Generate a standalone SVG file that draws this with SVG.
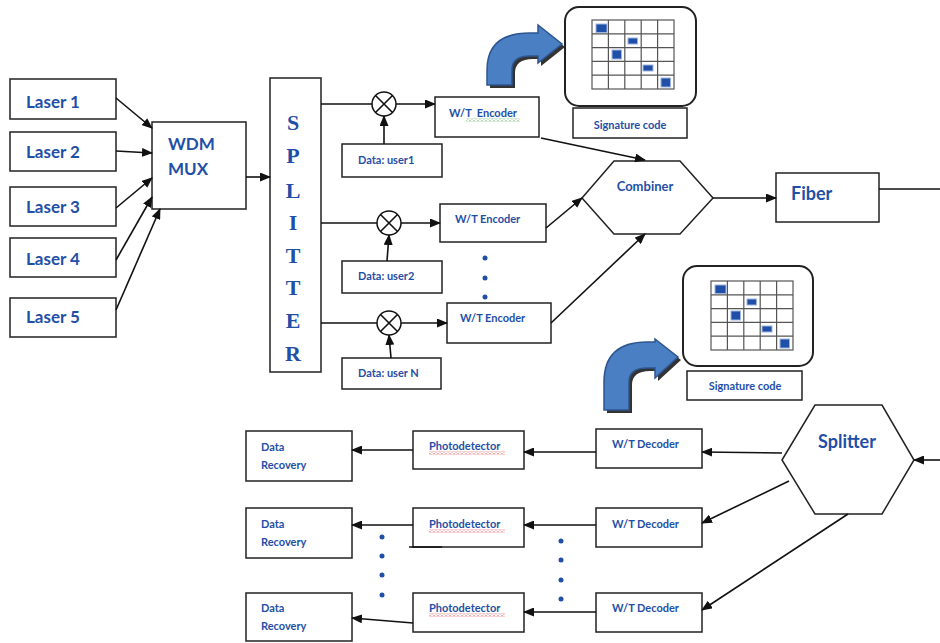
<svg xmlns="http://www.w3.org/2000/svg" width="940" height="643" viewBox="0 0 940 643">
<style>
.box{fill:#fff;stroke:#222;stroke-width:1.5}
.ln{fill:none;stroke:#111;stroke-width:1.6}
.arr{fill:none;stroke:#111;stroke-width:1.6;marker-end:url(#ah)}
.lbl{font-family:Lato,"Liberation Sans",sans-serif;font-weight:bold;fill:#1f4fa6}
.big{font-size:17px}
.sm{font-size:11px}
.sp{font-family:"Liberation Serif",serif;font-weight:bold;font-size:22px;fill:#1f4fa6;text-anchor:middle}
.dot{fill:#1f4fa6}
.grid{fill:#fff;stroke:#555;stroke-width:1.2}
.blk{fill:#1f4fa6;stroke:#9fb5e0;stroke-width:1}
.bend{fill:#4a7fc4;stroke:#2d5590;stroke-width:1.5}
.shadow{fill:#333}
</style>
<defs>
<marker id="ah" markerWidth="11" markerHeight="9" refX="10" refY="4.5" orient="auto" markerUnits="userSpaceOnUse">
<path d="M0,0 L11,4.5 L0,9 z" fill="#111"/>
</marker>
<pattern id="wavyR" width="4" height="3" patternUnits="userSpaceOnUse">
<path d="M0,2.5 L2,0.5 L4,2.5" fill="none" stroke="#e02020" stroke-width="0.8"/>
</pattern>
<pattern id="wavyG" width="4" height="3" patternUnits="userSpaceOnUse">
<path d="M0,2.5 L2,0.5 L4,2.5" fill="none" stroke="#3a9a3a" stroke-width="0.8"/>
</pattern>
<g id="sigGrid">
<rect class="grid" x="0" y="0" width="82" height="69"/>
<path d="M16.4,0 V69 M32.8,0 V69 M49.2,0 V69 M65.6,0 V69 M0,13.8 H82 M0,27.6 H82 M0,41.4 H82 M0,55.2 H82" stroke="#555" stroke-width="1.2" fill="none"/>
<rect class="blk" x="4" y="4" width="11" height="8.5"/>
<rect class="blk" x="36" y="18" width="9.5" height="6"/>
<rect class="blk" x="20" y="30" width="9.5" height="9"/>
<rect class="blk" x="51" y="45" width="10" height="6"/>
<rect class="blk" x="69" y="58" width="9.5" height="9"/>
</g>
</defs>
<rect width="940" height="643" fill="#fff"/>

<g id="laser1"><rect class="box" x="10" y="79" width="106" height="40"/><text class="lbl big" x="26" y="108">Laser 1</text></g>
<g id="laser2"><rect class="box" x="10" y="132" width="106" height="39"/><text class="lbl big" x="26" y="158">Laser 2</text></g>
<g id="laser3"><rect class="box" x="10" y="187" width="106" height="39"/><text class="lbl big" x="26" y="213">Laser 3</text></g>
<g id="laser4"><rect class="box" x="10" y="238" width="106" height="39"/><text class="lbl big" x="26" y="265">Laser 4</text></g>
<g id="laser5"><rect class="box" x="10" y="298" width="106" height="39"/><text class="lbl big" x="26" y="323">Laser 5</text></g>

<g id="wdm"><rect class="box" x="152" y="122" width="94" height="87"/><text class="lbl big" x="168" y="150">WDM</text><text class="lbl big" x="168" y="175">MUX</text></g>

<g id="splitter"><rect class="box" x="270" y="78" width="51" height="294"/>
<text class="sp" x="293" y="130">S</text><text class="sp" x="293" y="163">P</text><text class="sp" x="293" y="198">L</text><text class="sp" x="293" y="230">I</text><text class="sp" x="293" y="263">T</text><text class="sp" x="293" y="295">T</text><text class="sp" x="293" y="328">E</text><text class="sp" x="293" y="361">R</text></g>

<g id="enc1"><rect class="box" x="435" y="97" width="104" height="40"/><text class="lbl sm" x="449" y="117" xml:space="preserve">W/T  Encoder</text><rect x="466" y="118.5" width="54" height="3" fill="url(#wavyG)"/></g>
<g id="enc2"><rect class="box" x="440" y="204" width="106" height="38"/><text class="lbl sm" x="455" y="223">W/T Encoder</text></g>
<g id="enc3"><rect class="box" x="447" y="303" width="104" height="40"/><text class="lbl sm" x="460" y="322">W/T Encoder</text></g>

<g id="data1"><rect class="box" x="342" y="144" width="100" height="33"/><text class="lbl sm" x="358" y="164">Data: user1</text></g>
<g id="data2"><rect class="box" x="342" y="261" width="100" height="32"/><text class="lbl sm" x="358" y="280">Data: user2</text></g>
<g id="dataN"><rect class="box" x="342" y="358" width="99" height="31"/><text class="lbl sm" x="358" y="377">Data: user N</text></g>

<g id="sig1">
<path class="shadow" d="M490,88 L490,73 Q490,36 533,36 L541,36 L541,28 L565,47 L541,66 L541,59 L533,59 Q515,59 515,73 L515,88 Z"/>
<path class="bend" d="M487,85 L487,70 Q487,33 530,33 L538,33 L538,25 L562,44 L538,63 L538,56 L530,56 Q512,56 512,70 L512,85 Z"/>
<rect x="565" y="7" width="131" height="99" rx="14" fill="#fff" stroke="#222" stroke-width="2"/>
<use href="#sigGrid" x="592" y="20"/>
<rect class="box" x="573" y="108" width="114" height="30"/>
<text class="lbl sm" x="630" y="129" text-anchor="middle">Signature code</text>
</g>

<g id="combiner"><polygon class="box" points="582,198 614,161 680,161 713,198 680,234 614,234"/><text class="lbl" font-size="13" x="645" y="191" text-anchor="middle">Combiner</text></g>
<g id="fiber"><rect class="box" x="776" y="173" width="103" height="49"/><text class="lbl" font-size="18" x="791" y="200">Fiber</text></g>

<g id="sig2">
<path class="shadow" d="M607,413 L607,385 Q607,345 650,345 L658,345 L658,342 L681,360 L658,381 L658,371 L650,371 Q632,371 632,385 L632,413 Z"/>
<path class="bend" d="M604,410 L604,382 Q604,342 647,342 L655,342 L655,339 L678,357 L655,378 L655,368 L647,368 Q629,368 629,382 L629,410 Z"/>
<rect x="683" y="266" width="130" height="100" rx="14" fill="#fff" stroke="#222" stroke-width="2"/>
<use href="#sigGrid" x="711" y="281"/>
<rect class="box" x="687" y="371" width="115" height="29"/>
<text class="lbl sm" x="745" y="390" text-anchor="middle">Signature code</text>
</g>

<g id="splitter2"><polygon class="box" points="782,460 815,405 882,405 914,460 882,514 815,514"/><text class="lbl" font-size="18" x="847" y="448" text-anchor="middle">Splitter</text></g>

<g id="dec1"><rect class="box" x="596" y="429" width="106" height="39"/><text class="lbl sm" x="612" y="448">W/T Decoder</text></g>
<g id="dec2"><rect class="box" x="596" y="508" width="106" height="39"/><text class="lbl sm" x="612" y="528">W/T Decoder</text></g>
<g id="dec3"><rect class="box" x="596" y="593" width="106" height="39"/><text class="lbl sm" x="612" y="612">W/T Decoder</text></g>

<g id="pd1"><rect class="box" x="413" y="431" width="111" height="38"/><text class="lbl sm" x="429" y="450">Photodetector</text><rect x="429" y="451.5" width="76" height="3" fill="url(#wavyR)"/></g>
<g id="pd2"><rect class="box" x="413" y="508" width="111" height="39"/><text class="lbl sm" x="429" y="528">Photodetector</text><rect x="429" y="529.5" width="76" height="3" fill="url(#wavyR)"/></g>
<g id="pd3"><rect class="box" x="413" y="593" width="111" height="39"/><text class="lbl sm" x="429" y="612">Photodetector</text><rect x="429" y="613.5" width="76" height="3" fill="url(#wavyR)"/></g>

<g id="dr1"><rect class="box" x="246" y="431" width="106" height="50"/><text class="lbl sm" x="261" y="451">Data</text><text class="lbl sm" x="261" y="469">Recovery</text></g>
<g id="dr2"><rect class="box" x="246" y="508" width="106" height="50"/><text class="lbl sm" x="261" y="528">Data</text><text class="lbl sm" x="261" y="546">Recovery</text></g>
<g id="dr3"><rect class="box" x="246" y="593" width="106" height="48"/><text class="lbl sm" x="261" y="612">Data</text><text class="lbl sm" x="261" y="630">Recovery</text></g>

<g id="connectors">
<path class="arr" d="M116,98 L152,128"/>
<path class="arr" d="M116,151 L152,153"/>
<path class="arr" d="M116,208 L152,178"/>
<path class="arr" d="M116,260 L152,197"/>
<path class="arr" d="M116,310 L160,209"/>
<path class="arr" d="M246,177 L270,177"/>
<path class="arr" d="M321,104 L435,104"/>
<path class="arr" d="M321,223 L440,223"/>
<path class="arr" d="M321,323 L447,323"/>
<path class="arr" d="M384,144 L384,116"/>
<path class="arr" d="M387,261 L389,235"/>
<path class="arr" d="M391,358 L389,335"/>
<g fill="#fff" stroke="#111" stroke-width="1.5">
<circle cx="384" cy="104" r="12"/><circle cx="389" cy="223" r="12"/><circle cx="389" cy="323" r="12"/>
</g>
<path class="ln" d="M375.5,95.5 L392.5,112.5 M392.5,95.5 L375.5,112.5 M380.5,214.5 L397.5,231.5 M397.5,214.5 L380.5,231.5 M380.5,314.5 L397.5,331.5 M397.5,314.5 L380.5,331.5" stroke-width="1.3"/>
<path class="arr" d="M541,138 L645,160"/>
<path class="arr" d="M546,228 L582,198"/>
<path class="arr" d="M551,323 L645,234"/>
<path class="arr" d="M713,198 L776,198"/>
<path class="ln" d="M879,189 L940,189"/>
<path class="arr" d="M940,460 L914,460"/>
<path class="arr" d="M782,453 L702,452"/>
<path class="arr" d="M789,481 L702,523"/>
<path class="arr" d="M848,514 L702,610"/>
<path class="arr" d="M596,452 L524,452"/>
<path class="arr" d="M596,525 L524,525"/>
<path class="arr" d="M596,612 L524,612"/>
<path class="arr" d="M413,450 L352,450"/>
<path class="arr" d="M413,525 L352,525"/>
<path class="arr" d="M413,623 L352,618"/>
<path class="ln" d="M409,547 L442,547"/>
</g>
<g id="dots">
<circle class="dot" cx="485" cy="258" r="2.5"/><circle class="dot" cx="485" cy="278" r="2.5"/><circle class="dot" cx="485" cy="297" r="2.5"/>
<circle class="dot" cx="382" cy="537" r="2.5"/><circle class="dot" cx="382" cy="556" r="2.5"/><circle class="dot" cx="382" cy="575" r="2.5"/><circle class="dot" cx="382" cy="595" r="2.5"/>
<circle class="dot" cx="561" cy="541" r="2.5"/><circle class="dot" cx="561" cy="560" r="2.5"/><circle class="dot" cx="561" cy="580" r="2.5"/><circle class="dot" cx="561" cy="599" r="2.5"/>
</g>
</svg>
